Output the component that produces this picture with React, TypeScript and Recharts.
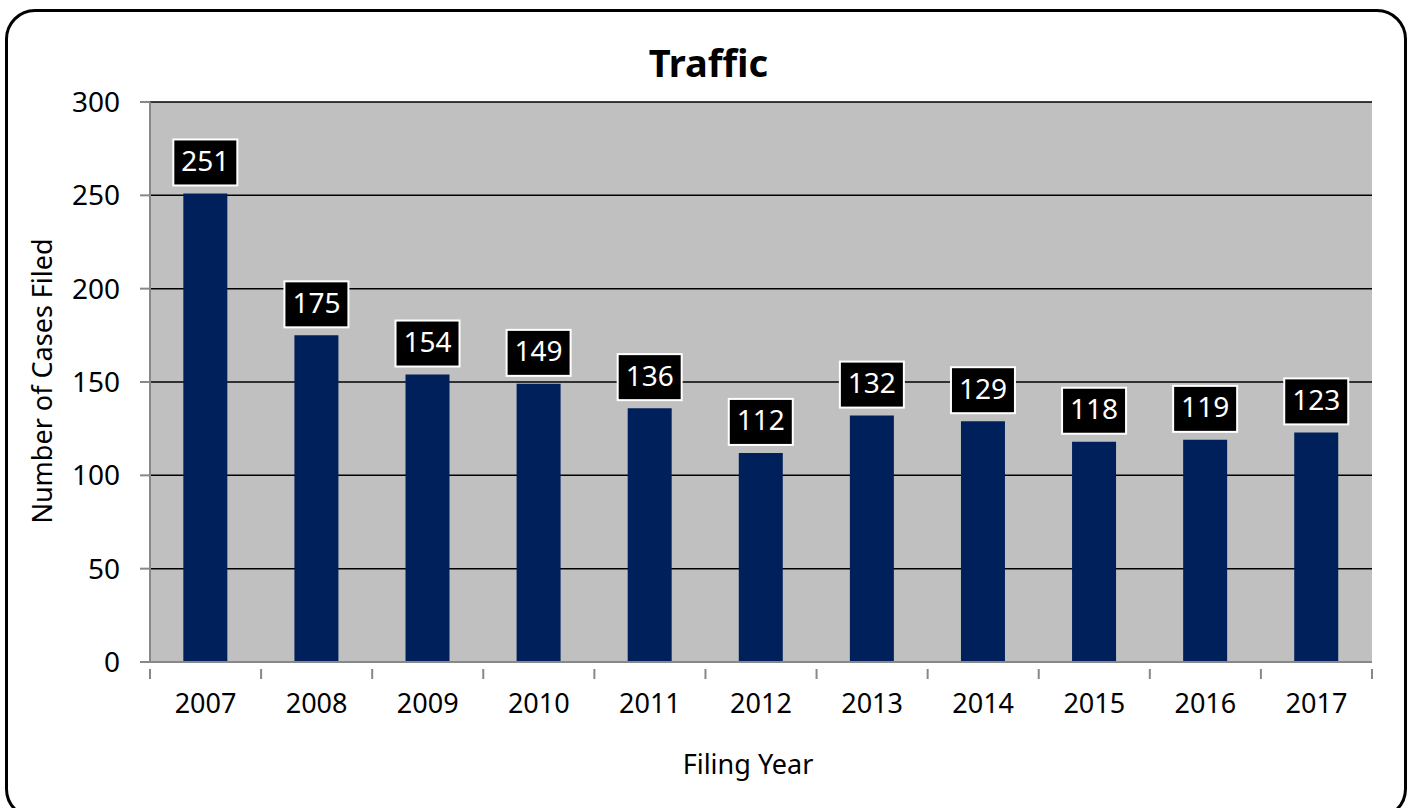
import { BarChart, Bar, XAxis, YAxis, CartesianGrid, LabelList, Label } from 'recharts';

const years = ['2007', '2008', '2009', '2010', '2011', '2012', '2013', '2014', '2015', '2016', '2017'];
const casesFiled = [251, 175, 154, 149, 136, 112, 132, 129, 118, 119, 123];
const yTicks = [0, 50, 100, 150, 200, 250, 300];

const chartData = years.map((year, i) => ({ year, cases: casesFiled[i] }));

const FONT = '"Noto Sans", "Open Sans", sans-serif';

// value box: black fill, white outline, sits a few px above the bar
const ValueBox = (props: any) => {
  const { x, y, width, value } = props;
  const cx = x + width / 2;
  const w = 64;
  const h = 46;
  const top = y - 8 - h;
  return (
    <g>
      <rect x={cx - w / 2} y={top} width={w} height={h} fill="#000" stroke="#fff" strokeWidth={2} />
      <text x={cx} y={top + h / 2 + 1} fill="#fff" fontSize={28} fontFamily={FONT} textAnchor="middle" dominantBaseline="middle">
        {value}
      </text>
    </g>
  );
};

// x ticks sit on category boundaries, labels in the middle
const YearTick = (props: any) => {
  const { x, y, width, payload, index, visibleTicksCount } = props;
  const band = width / visibleTicksCount;
  const left = x - band / 2;
  return (
    <g>
      <line x1={left} y1={y - 1} x2={left} y2={y + 9} stroke="#888" strokeWidth={2} />
      {index === visibleTicksCount - 1 && (
        <line x1={x + band / 2} y1={y - 1} x2={x + band / 2} y2={y + 9} stroke="#888" strokeWidth={2} />
      )}
      <text x={x} y={y + 36} fill="#000" fontSize={27} fontFamily={FONT} textAnchor="middle" dominantBaseline="middle">
        {payload.value}
      </text>
    </g>
  );
};

export default function App() {
  return (
    <div style={{ position: 'absolute', left: 0, top: 0, width: 1417, height: 808, background: '#fff', fontFamily: FONT }}>
      <div
        style={{
          position: 'absolute',
          left: 5,
          top: 9,
          width: 1402,
          height: 810,
          border: '3px solid #000',
          borderRadius: 30,
          boxSizing: 'border-box',
        }}
      />
      <div
        style={{
          position: 'absolute',
          left: 0,
          width: 1417,
          top: 38,
          textAlign: 'center',
          fontSize: 38,
          fontWeight: 'bold',
          lineHeight: '48px',
        }}
      >
        Traffic
      </div>
      <BarChart
        width={1417}
        height={808}
        data={chartData}
        margin={{ top: 102, right: 45, left: 0, bottom: 0 }}
        barCategoryGap="30%"
        style={{ position: 'absolute', left: 0, top: 0 }}
      >
        <CartesianGrid vertical={false} stroke="#000" strokeWidth={1.5} fill="#C0C0C0" />
        <XAxis
          dataKey="year"
          height={146}
          axisLine={{ stroke: '#888', strokeWidth: 2 }}
          tickLine={false}
          tick={<YearTick />}
          interval={0}
        >
          <Label
            content={() => (
              <text x={748} y={767} fontSize={27} fontFamily={FONT} fill="#000" textAnchor="middle" dominantBaseline="middle">
                Filing Year
              </text>
            )}
          />
        </XAxis>
        <YAxis
          width={150}
          domain={[0, 300]}
          ticks={yTicks}
          interval={0}
          axisLine={{ stroke: '#888', strokeWidth: 2 }}
          tickLine={{ stroke: '#888', strokeWidth: 2 }}
          tickSize={10}
          tickMargin={20}
          tick={{ fill: '#000', fontSize: 28, fontFamily: FONT }}
        >
          <Label
            content={() => (
              <text
                x={45}
                y={381}
                fontSize={27}
                fontFamily={FONT}
                fill="#000"
                textAnchor="middle"
                dominantBaseline="middle"
                transform="rotate(-90 45 381)"
              >
                Number of Cases Filed
              </text>
            )}
          />
        </YAxis>
        <Bar dataKey="cases" fill="#00205B" isAnimationActive={false}>
          <LabelList dataKey="cases" content={<ValueBox />} />
        </Bar>
      </BarChart>
    </div>
  );
}
